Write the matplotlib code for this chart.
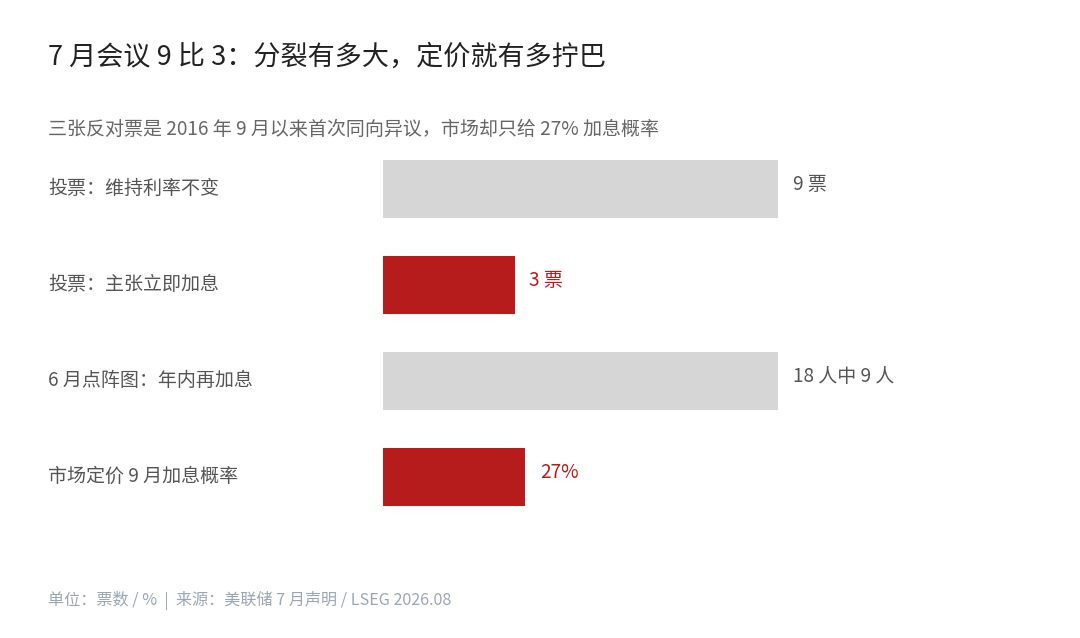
import matplotlib
matplotlib.use("Agg")
import matplotlib.pyplot as plt

plt.rcParams['font.family'] = ['Noto Sans CJK SC', 'DejaVu Sans']

# data
categories = ["投票：维持利率不变", "投票：主张立即加息", "6 月点阵图：年内再加息", "市场定价 9 月加息概率"]
values = [75, 25, 75, 27]   # bar length, share of the whole (9/12, 3/12, ..., 27%)
value_labels = ["9 票", "3 票", "18 人中 9 人", "27%"]
highlight = [False, True, False, True]

GRAY = "#d6d6d6"
RED = "#b71c1c"

W, H = 1080, 638
fig = plt.figure(figsize=(W / 100, H / 100), dpi=100)
fig.patch.set_facecolor("white")

def px(x, y):
    return x / W, 1 - y / H

# axes: left edge at the bars' start
left, top, right, bottom = 383, 141, 1040, 525
ax = fig.add_axes([left / W, 1 - bottom / H, (right - left) / W, (bottom - top) / H])
ax.set_xlim(0, (right - left) / 395 * 75)
ax.set_ylim(len(categories) - 0.5, -0.5)
ax.axis("off")

colors = [RED if h else GRAY for h in highlight]
ypos = list(range(len(categories)))
ax.barh(ypos, values, height=0.61, color=colors, edgecolor="none")

for i, (v, lab, h) in enumerate(zip(values, value_labels, highlight)):
    ax.annotate(lab, (v, i), xytext=(10.5, 3), textcoords="offset points",
                va="center", ha="left", fontsize=13.7,
                color=RED if h else "#555555")
    # row label on the left side
    x, y = px(48, 188 + 96 * i)
    fig.text(x, y, categories[i], ha="left", va="center", fontsize=13.7, color="#555555")

x, y = px(48, 57)
fig.text(x, y, "7 月会议 9 比 3：分裂有多大，定价就有多拧巴", ha="left", va="center",
         fontsize=19.5, color="#222222", fontweight="medium")
x, y = px(48, 129)
fig.text(x, y, "三张反对票是 2016 年 9 月以来首次同向异议，市场却只给 27% 加息概率",
         ha="left", va="center", fontsize=13.7, color="#666666")
x, y = px(48, 601)
fig.text(x, y, "单位：票数 / %  |  来源：美联储 7 月声明 / LSEG 2026.08",
         ha="left", va="center", fontsize=11.6, color="#9aa6b6")

fig.savefig("out.png", dpi=100, facecolor="white")
